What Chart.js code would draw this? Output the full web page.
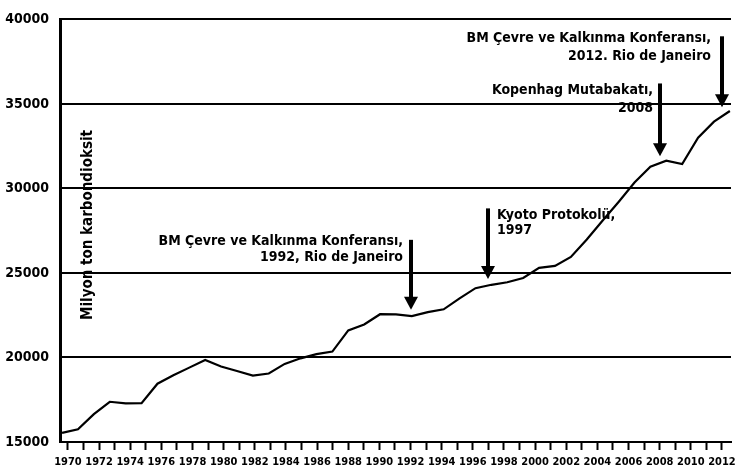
<!DOCTYPE html>
<html lang="tr">
  <head>
    <meta charset="UTF-8" />
    <title>Karbondioksit emisyonu 1970-2012</title>
    <script src="https://cdn.jsdelivr.net/npm/chart.js@4"></script>
    <style>
      html, body { margin: 0; padding: 0; background: #fff; }
      .chart-container { position: relative; width: 745px; height: 472px; }
    </style>
  </head>
  <body>
    <div class="chart-container">
      <canvas id="chart1"></canvas>
    </div>
    <script>
      const years = [1970, 1971, 1972, 1973, 1974, 1975, 1976, 1977, 1978, 1979,
                     1980, 1981, 1982, 1983, 1984, 1985, 1986, 1987, 1988, 1989,
                     1990, 1991, 1992, 1993, 1994, 1995, 1996, 1997, 1998, 1999,
                     2000, 2001, 2002, 2003, 2004, 2005, 2006, 2007, 2008, 2009,
                     2010, 2011, 2012];
      // milyon ton CO2
      const emissions = [15540, 15750, 16650, 17380, 17280, 17300, 18450, 18950, 19400, 19850,
                         19470, 19200, 18930, 19050, 19620, 19950, 20200, 20350, 21600, 21950,
                         22560, 22550, 22450, 22680, 22850, 23500, 24100, 24300, 24450, 24700,
                         25300, 25420, 25950, 26980, 28100, 29200, 30350, 31280, 31640, 31440,
                         33000, 33950, 34580];
      const yTicks = [15000, 20000, 25000, 30000, 35000, 40000];
      const yAxisTitle = 'Milyon ton karbondioksit';

      // arrows: year, value at arrow top, value at arrow tip, text
      const eventYears = [1992, 1997, 2008, 2012];
      const arrowTop = [26960, 28820, 36210, 39000];
      const arrowTip = [22830, 24650, 31900, 34810];
      const eventText = [
        ['BM Çevre ve Kalkınma Konferansı,', '1992, Rio de Janeiro'],
        ['Kyoto Protokolü,', '1997'],
        ['Kopenhag Mutabakatı,', '2008'],
        ['BM Çevre ve Kalkınma Konferansı,', '2012. Rio de Janeiro']
      ];
      // text placement for each arrow
      const textLayout = [
        { dx: -8, align: 'right', ys: [241, 257] },
        { dx: 9, align: 'left', ys: [215, 230] },
        { dx: -7, align: 'right', ys: [90, 108] },
        { dx: -11, align: 'right', ys: [38, 56] }
      ];

      const FONT = '"DejaVu Sans Condensed", "DejaVu Sans", sans-serif';

      const annotations = {
        id: 'annotations',
        afterDatasetsDraw(chart) {
          const { ctx, scales: { x, y } } = chart;
          ctx.save();
          ctx.fillStyle = '#000';
          ctx.strokeStyle = '#000';

          // arrows
          eventYears.forEach((yr, i) => {
            const px = Math.round(x.getPixelForValue(yr));
            const top = y.getPixelForValue(arrowTop[i]);
            const tip = y.getPixelForValue(arrowTip[i]);
            ctx.lineWidth = 4;
            ctx.beginPath();
            ctx.moveTo(px, top);
            ctx.lineTo(px, tip - 10);
            ctx.stroke();
            ctx.beginPath();
            ctx.moveTo(px - 7, tip - 13);
            ctx.lineTo(px + 7, tip - 13);
            ctx.lineTo(px, tip);
            ctx.closePath();
            ctx.fill();

            const lay = textLayout[i];
            ctx.font = 'bold 14px ' + FONT;
            ctx.textAlign = lay.align;
            ctx.textBaseline = 'middle';
            eventText[i].forEach((line, j) => {
              ctx.fillText(line, px + lay.dx, lay.ys[j]);
            });
          });

          // axis title inside the plot
          ctx.translate(88, 225);
          ctx.rotate(-Math.PI / 2);
          ctx.font = 'bold 15px ' + FONT;
          ctx.textAlign = 'center';
          ctx.textBaseline = 'middle';
          ctx.fillText(yAxisTitle, 0, 0);
          ctx.restore();
        }
      };

      const config = {
        type: 'line',
        data: {
          datasets: [{
            label: 'CO2',
            data: years.map((yr, i) => ({ x: yr, y: emissions[i] })),
            xAxisID: 'xd',
            borderColor: '#000',
            borderWidth: 2.2,
            pointRadius: 0,
            tension: 0,
            fill: false
          }]
        },
        options: {
          responsive: false,
          animation: false,
          layout: { padding: { top: 13, right: 14, left: 0, bottom: 0 } },
          plugins: {
            legend: { display: false },
            tooltip: { enabled: false }
          },
          scales: {
            // data axis, hidden; the line runs a little wider than the tick marks
            xd: {
              type: 'linear',
              display: false,
              min: 1969.87,
              max: 2012.07
            },
            x: {
              type: 'linear',
              position: 'bottom',
              min: 1969.49,
              max: 2012.58,
              afterBuildTicks(scale) {
                scale.ticks = years.map(v => ({ value: v }));
              },
              afterFit(scale) { scale.height = 30; },
              grid: {
                drawOnChartArea: false,
                drawTicks: true,
                tickLength: 8,
                tickWidth: 2,
                tickColor: '#000'
              },
              border: { display: true, color: '#000', width: 2 },
              ticks: {
                autoSkip: false,
                maxRotation: 0,
                padding: 6,
                color: '#000',
                font: { family: FONT, size: 11, weight: 'bold' },
                callback: v => (v % 2 === 0 ? String(v) : '')
              }
            },
            y: {
              min: 15000,
              max: 40000,
              afterBuildTicks(scale) {
                scale.ticks = yTicks.map(v => ({ value: v }));
              },
              afterFit(scale) { scale.width = 60; },
              grid: {
                color: '#000',
                lineWidth: 2,
                drawTicks: false
              },
              border: { display: true, color: '#000', width: 3 },
              ticks: {
                padding: 11,
                color: '#000',
                font: { family: FONT, size: 14, weight: 'bold' },
                callback: v => String(v)
              }
            }
          }
        },
        plugins: [annotations]
      };

      const ctx = document.getElementById('chart1');
      ctx.width = 745;
      ctx.height = 472;
      const myChart = new Chart(ctx, config);
    </script>
  </body>
</html>
